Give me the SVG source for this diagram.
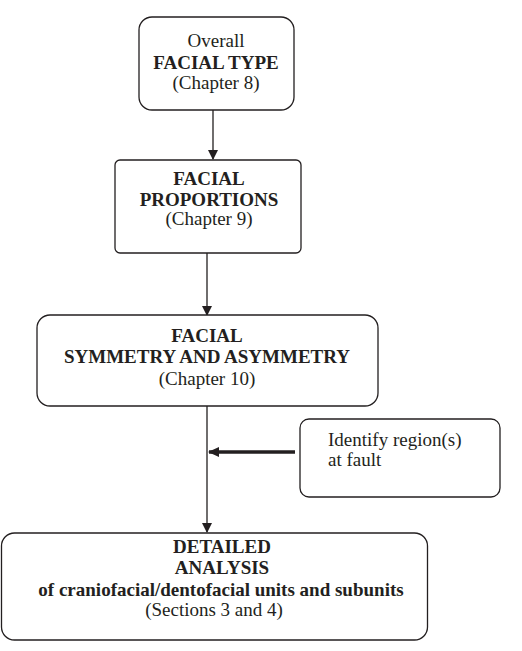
<svg xmlns="http://www.w3.org/2000/svg" width="522" height="651" viewBox="0 0 522 651">
<defs>
<style>
.box{fill:#fff;stroke:#231f20;stroke-width:1.3}
.t{font-family:"Liberation Serif","Times New Roman",serif;font-size:19px;fill:#231f20;text-anchor:middle}
.b{font-weight:bold}
.l{text-anchor:start}
.c{stroke:#231f20;stroke-width:1.3;fill:none}
.thick{stroke-width:3.5}
</style>
<marker id="ah" markerWidth="10" markerHeight="10" refX="9" refY="5" orient="auto" markerUnits="userSpaceOnUse">
<path d="M0,0 L10,5 L0,10 z" fill="#231f20"/>
</marker>
<marker id="ah2" markerWidth="12" markerHeight="12" refX="10" refY="6" orient="auto" markerUnits="userSpaceOnUse">
<path d="M0,1 L11,6 L0,11 z" fill="#231f20"/>
</marker>
</defs>
<rect width="522" height="651" fill="#fff"/>
<g id="connectors">
<line class="c" x1="213" y1="110" x2="213" y2="159" marker-end="url(#ah)"/>
<line class="c" x1="207" y1="253" x2="207" y2="315" marker-end="url(#ah)"/>
<line class="c" x1="207" y1="406" x2="207" y2="532" marker-end="url(#ah)"/>
<line class="c thick" x1="295" y1="452" x2="209" y2="452" marker-end="url(#ah2)"/>
</g>
<g id="node-facial-type">
<rect class="box" x="139" y="17" width="155" height="93" rx="13"/>
<text class="t" x="216" y="47">Overall</text>
<text class="t b" x="216" y="68.5">FACIAL TYPE</text>
<text class="t" x="216" y="89">(Chapter 8)</text>
</g>
<g id="node-proportions">
<rect class="box" x="115" y="160" width="186" height="93" rx="5"/>
<text class="t b" x="209" y="185">FACIAL</text>
<text class="t b" x="209" y="205.5">PROPORTIONS</text>
<text class="t" x="209" y="225">(Chapter 9)</text>
</g>
<g id="node-symmetry">
<rect class="box" x="37" y="315" width="341" height="91" rx="13"/>
<text class="t b" x="207" y="342">FACIAL</text>
<text class="t b" x="207" y="363">SYMMETRY AND ASYMMETRY</text>
<text class="t" x="207" y="385">(Chapter 10)</text>
</g>
<g id="node-identify">
<rect class="box" x="300" y="419" width="200" height="78" rx="9"/>
<text class="t l" x="328" y="446">Identify region(s)</text>
<text class="t l" x="328" y="466">at fault</text>
</g>
<g id="node-detailed">
<rect class="box" x="1.5" y="533" width="426" height="107" rx="13"/>
<text class="t b" x="222" y="553">DETAILED</text>
<text class="t b" x="222" y="574">ANALYSIS</text>
<text class="t b" x="221" y="596">of craniofacial/dentofacial units and subunits</text>
<text class="t" x="214" y="616">(Sections 3 and 4)</text>
</g>
</svg>
